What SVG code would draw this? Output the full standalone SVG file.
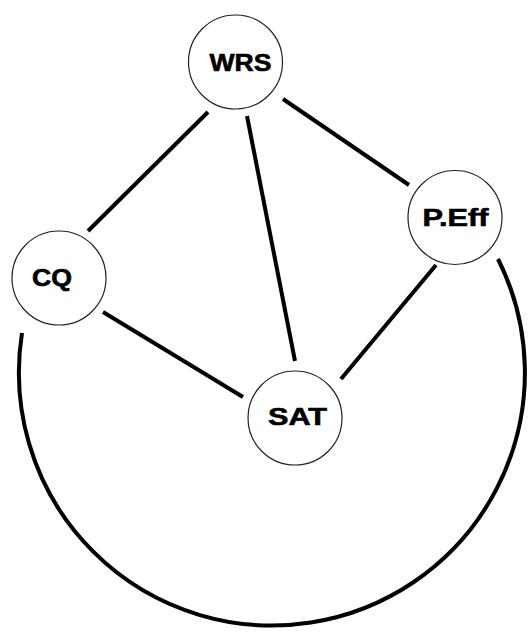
<svg xmlns="http://www.w3.org/2000/svg" width="528" height="633" viewBox="0 0 528 633">
<style>
.node circle{fill:#fff;stroke:#222;stroke-width:1.2}
.node text{font-family:"Liberation Sans",Arial,sans-serif;font-weight:bold;font-size:24px;fill:#000;stroke:#000;stroke-width:0.6;text-anchor:middle}
.edges line,.edges path{stroke:#000;stroke-width:4;fill:none;stroke-linecap:butt}
</style>
<rect width="528" height="633" fill="#fff"/>
<g class="edges" id="connectors">
<line x1="208" y1="112" x2="88" y2="231"/>
<line x1="283" y1="99" x2="409" y2="185"/>
<line x1="247" y1="116" x2="295" y2="361"/>
<line x1="103" y1="312" x2="243" y2="397"/>
<line x1="436" y1="265" x2="341" y2="379"/>
<path d="M 22 333 A 253 253 0 1 0 498 259"/>
</g>
<g class="node" id="WRS">
<circle cx="235.5" cy="62" r="47"/>
<text x="240.5" y="70.5" textLength="62" lengthAdjust="spacingAndGlyphs">WRS</text>
</g>
<g class="node" id="CQ">
<circle cx="59" cy="278" r="47"/>
<text x="52" y="285.5" textLength="40" lengthAdjust="spacingAndGlyphs">CQ</text>
</g>
<g class="node" id="PEff">
<circle cx="455" cy="217.5" r="47"/>
<text x="455.5" y="226" textLength="66" lengthAdjust="spacingAndGlyphs">P.Eff</text>
</g>
<g class="node" id="SAT">
<circle cx="295" cy="418" r="47"/>
<text x="297.5" y="425" textLength="59" lengthAdjust="spacingAndGlyphs">SAT</text>
</g>
</svg>
